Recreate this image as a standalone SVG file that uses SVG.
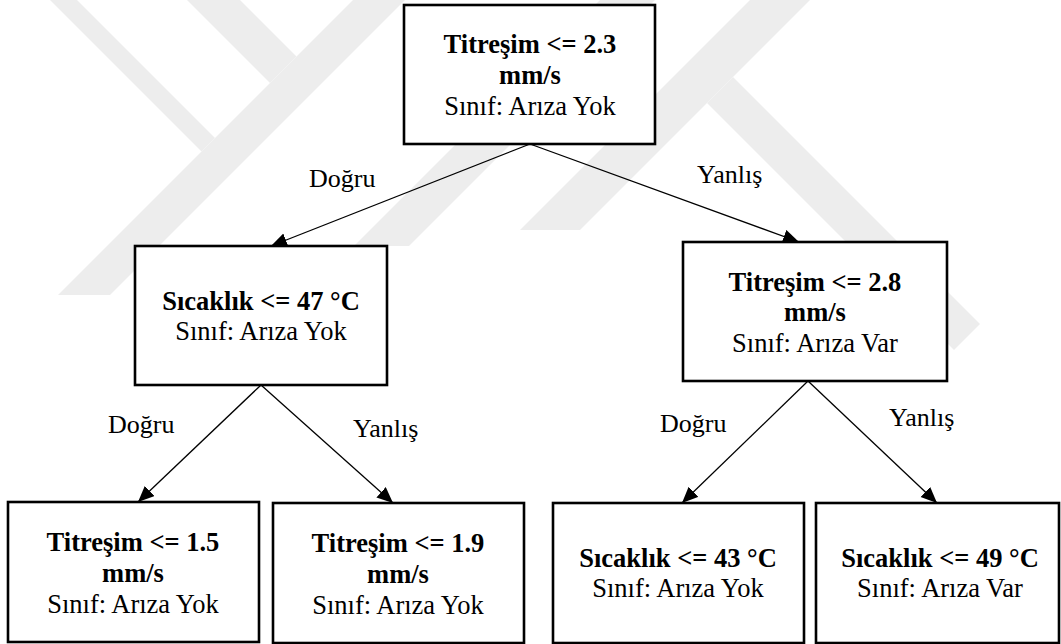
<svg xmlns="http://www.w3.org/2000/svg" width="1061" height="644" viewBox="0 0 1061 644" font-family="'Liberation Serif', Tinos, 'Times New Roman', Times, 'DejaVu Serif', serif">
  <style>
    .box { fill: #ffffff; stroke: #000000; stroke-width: 2.6; }
    .edge { fill: none; stroke: #000000; stroke-width: 1.3; marker-end: url(#arrow); }
    .wm { fill: #ededed; stroke: none; }
    text { font-family: 'Liberation Serif', Tinos, 'Times New Roman', Times, 'DejaVu Serif', serif; font-size: 26.5px; fill: #000000; text-anchor: middle; }
    .b { font-weight: bold; }
    .lbl { text-anchor: start; font-size: 26px; }
  </style>
  <defs>
    <marker id="arrow" markerUnits="userSpaceOnUse" markerWidth="18" markerHeight="16" refX="16" refY="7" orient="auto">
      <path d="M0,0 L16,7 L0,14 Z" fill="#000000"/>
    </marker>
  </defs>
  <rect width="1061" height="644" fill="#ffffff"/>

  <!-- light background emblem -->
  <g id="emblem">
    <polygon class="wm" points="58,295 110,295 405,0 353,0"/>
    <polygon class="wm" points="50,0 77,0 215,138 201.5,151.5"/>
    <polygon class="wm" points="187,0 240,0 296.5,56.5 270,83"/>
    <polygon class="wm" points="600,0 655,0 409,246 354,246"/>
    <polygon class="wm" points="750,0 810,0 580,230 520,230"/>
    <polygon class="wm" points="707,103 733,77 980,324 954,350"/>
  </g>

  <!-- connectors -->
  <g id="connectors">
    <line class="edge" x1="530" y1="144" x2="271" y2="246"/>
    <line class="edge" x1="530" y1="144" x2="799" y2="242"/>
    <line class="edge" x1="261" y1="385" x2="138" y2="502"/>
    <line class="edge" x1="261" y1="385" x2="393" y2="503"/>
    <line class="edge" x1="808" y1="381" x2="682" y2="503"/>
    <line class="edge" x1="808" y1="381" x2="937" y2="503"/>
    <text class="lbl" x="309" y="187">Doğru</text>
    <text class="lbl" x="697" y="183">Yanlış</text>
    <text class="lbl" x="108" y="433">Doğru</text>
    <text class="lbl" x="353" y="437">Yanlış</text>
    <text class="lbl" x="660" y="432">Doğru</text>
    <text class="lbl" x="889" y="426">Yanlış</text>
  </g>

  <g id="root">
    <rect class="box" x="404" y="5" width="251" height="139"/>
    <text class="b" x="530" y="53">Titreşim &lt;= 2.3</text>
    <text class="b" x="530" y="84">mm/s</text>
    <text x="530" y="115">Sınıf: Arıza Yok</text>
  </g>

  <g id="node-sicaklik-47">
    <rect class="box" x="135" y="246" width="252" height="139"/>
    <text class="b" x="261" y="310">Sıcaklık &lt;= 47 °C</text>
    <text x="261" y="340">Sınıf: Arıza Yok</text>
  </g>

  <g id="node-titresim-28">
    <rect class="box" x="683" y="242" width="264" height="139"/>
    <text class="b" x="815" y="291">Titreşim &lt;= 2.8</text>
    <text class="b" x="815" y="321">mm/s</text>
    <text x="815" y="352">Sınıf: Arıza Var</text>
  </g>

  <g id="node-titresim-15">
    <rect class="box" x="8" y="502" width="251" height="140"/>
    <text class="b" x="133" y="551">Titreşim &lt;= 1.5</text>
    <text class="b" x="133" y="582">mm/s</text>
    <text x="133" y="613">Sınıf: Arıza Yok</text>
  </g>

  <g id="node-titresim-19">
    <rect class="box" x="273" y="503" width="251" height="140"/>
    <text class="b" x="398" y="552">Titreşim &lt;= 1.9</text>
    <text class="b" x="398" y="583">mm/s</text>
    <text x="398" y="614">Sınıf: Arıza Yok</text>
  </g>

  <g id="node-sicaklik-43">
    <rect class="box" x="553" y="503" width="251" height="140"/>
    <text class="b" x="678" y="567">Sıcaklık &lt;= 43 °C</text>
    <text x="678" y="597">Sınıf: Arıza Yok</text>
  </g>

  <g id="node-sicaklik-49">
    <rect class="box" x="816" y="503" width="243" height="140"/>
    <text class="b" x="940" y="567">Sıcaklık &lt;= 49 °C</text>
    <text x="940" y="597">Sınıf: Arıza Var</text>
  </g>
</svg>
